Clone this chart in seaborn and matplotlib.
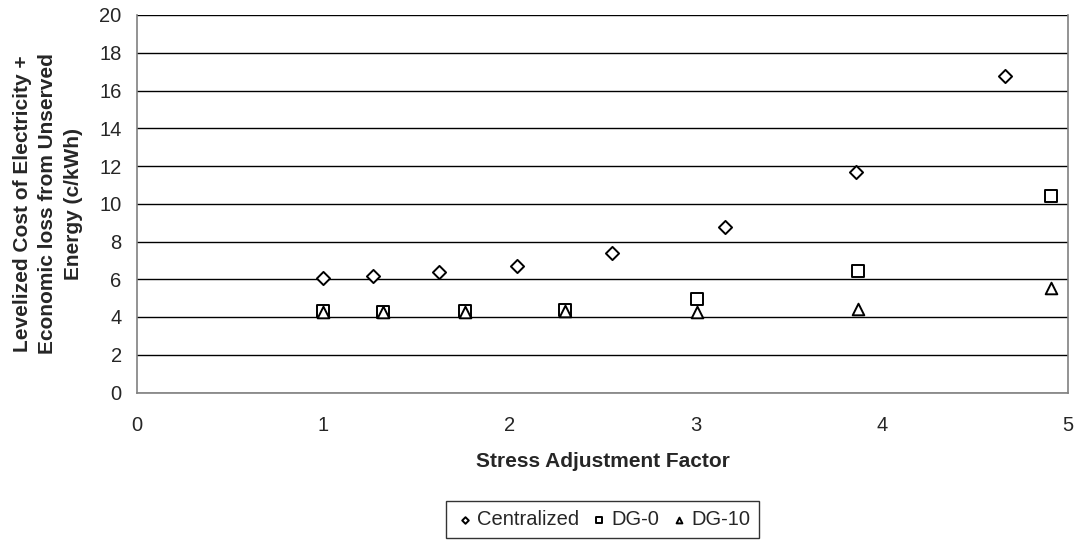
import matplotlib
matplotlib.use("Agg")
import matplotlib.pyplot as plt
import seaborn as sns
import pandas as pd

# Data
central_x = [1.00, 1.27, 1.62, 2.04, 2.55, 3.16, 3.86, 4.66]
central_y = [6.08, 6.19, 6.37, 6.71, 7.39, 8.79, 11.70, 16.79]
dg0_x = [1.00, 1.32, 1.76, 2.30, 3.01, 3.87, 4.91]
dg0_y = [4.30, 4.27, 4.32, 4.37, 4.94, 6.43, 10.40]
dg10_x = [1.00, 1.32, 1.76, 2.30, 3.01, 3.87, 4.91]
dg10_y = [4.25, 4.25, 4.27, 4.30, 4.28, 4.45, 5.53]
series_names = ["Centralized", "DG-0", "DG-10"]
x_ticks = [0, 1, 2, 3, 4, 5]
y_ticks = [0, 2, 4, 6, 8, 10, 12, 14, 16, 18, 20]

df = pd.concat([
    pd.DataFrame({"x": central_x, "y": central_y, "series": series_names[0]}),
    pd.DataFrame({"x": dg0_x, "y": dg0_y, "series": series_names[1]}),
    pd.DataFrame({"x": dg10_x, "y": dg10_y, "series": series_names[2]}),
], ignore_index=True)

sns.set_style("white")
plt.rcParams['font.family'] = ['Liberation Sans', 'DejaVu Sans']

fig = plt.figure(figsize=(10.76, 5.40), dpi=100)
ax = fig.add_axes([137/1076, 1-392.5/540, (1068-137)/1076, (392.5-15)/540])

markers = {"Centralized": "D", "DG-0": "s", "DG-10": "^"}
sizes = {"Centralized": 45, "DG-0": 70, "DG-10": 70}
for name in series_names:
    sub = df[df["series"] == name]
    sns.scatterplot(data=sub, x="x", y="y", marker=markers[name], s=sizes[name],
                    facecolor="white", edgecolor="black", linewidth=1.4,
                    ax=ax, label=name, zorder=3)

ax.set_xlim(0, 5)
ax.set_ylim(0, 20)
ax.set_xticks(x_ticks)
ax.set_yticks(y_ticks)
ax.yaxis.grid(True, color="black", linewidth=1.0)
ax.set_axisbelow(True)
for side in ["left", "bottom", "right", "top"]:
    ax.spines[side].set_color("#808080")
    ax.spines[side].set_linewidth(1.2)
ax.spines["top"].set_visible(False)
ax.tick_params(axis="both", direction="out", length=6, width=1.0, color="black",
               labelsize=14.5, pad=5)
ax.tick_params(axis="x", pad=11)

ax.set_xlabel("Stress Adjustment Factor", fontsize=15, fontweight="bold", labelpad=12)
ax.set_ylabel("Levelized Cost of Electricity +\nEconomic loss from Unserved\nEnergy (c/kWh)",
              fontsize=15, fontweight="bold", linespacing=1.45,
              ha="center", va="center")
ax.yaxis.set_label_coords((48 - 137) / 931, 0.5)

leg = ax.legend(loc="upper center", bbox_to_anchor=(0.5, -0.287), ncol=3,
                frameon=True, fancybox=False, fontsize=14.5, markerscale=0.5,
                handletextpad=0.1, columnspacing=0.5, borderpad=0.45,
                handlelength=1.0, borderaxespad=0)
leg.get_frame().set_edgecolor("black")
leg.get_frame().set_linewidth(1.0)

fig.savefig("out.png", dpi=100)
